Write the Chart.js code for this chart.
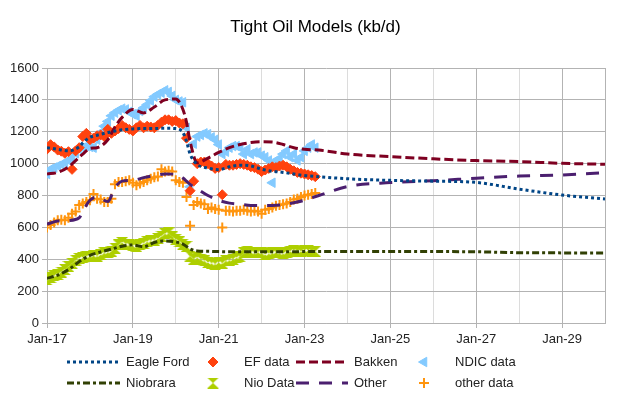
<!DOCTYPE html>
<html>
<head>
<meta charset="utf-8">
<script src="https://cdn.jsdelivr.net/npm/chart.js@4.4.0/dist/chart.umd.min.js"></script>
<style>
  html, body { margin: 0; padding: 0; background: #fff; }
  #wrap { width: 631px; height: 406px; }
</style>
</head>
<body>
<div id="wrap"><canvas id="chart"></canvas></div>
<script>
// months counted from Jan-17 (0) to Jan-30 (156)
const modelMonths = [0, 3, 6, 9, 10, 12, 14, 17, 19, 21, 24, 27, 30, 33, 36, 38, 39, 40, 42, 45,
  48, 51, 54, 57, 60, 63, 66, 69, 72, 76, 84, 96, 108, 120, 132, 144, 156];

const eagleFord = [1100, 1090, 1080, 1105, 1130, 1165, 1178, 1195, 1205, 1212, 1218, 1220, 1220, 1222, 1220, 1195, 1140, 1060, 995, 972,
  962, 980, 990, 985, 965, 952, 945, 935, 925, 918, 905, 895, 890, 882, 840, 803, 778];
const bakken = [935, 945, 980, 1040, 1060, 1095, 1100, 1150, 1230, 1290, 1340, 1318, 1355, 1400, 1405, 1340, 1260, 1140, 1005, 1035,
  1070, 1100, 1120, 1132, 1137, 1135, 1120, 1100, 1090, 1085, 1060, 1044, 1030, 1019, 1013, 1002, 996];
const niobrara = [280, 300, 335, 385, 400, 425, 440, 458, 470, 482, 490, 478, 505, 515, 508, 495, 480, 465, 452, 450,
  448, 447, 447, 447, 447, 447, 447, 447, 448, 448, 448, 448, 448, 447, 441, 440, 440];
const other = [620, 640, 643, 660, 700, 770, 790, 762, 850, 890, 895, 912, 925, 935, 933, 910, 890, 870, 842, 800,
  770, 752, 745, 738, 737, 737, 742, 755, 770, 800, 856, 881, 893, 908, 922, 929, 943];

// monthly data, Jan-17 onwards
const efData = [1091, 1119, 1105, 1085, 1078, 1065, 1075, 964, 1080, 1100,
  1170, 1190, 1150, 1160, 1175, 1180, 1170, 1215, 1190, 1205,
  1220, 1240, 1225, 1215, 1205, 1225, 1240, 1225, 1235, 1230,
  1225, 1240, 1260, 1275, 1275, 1265, 1270, 1255, 1250, 1160,
  830, 890, 1000, 1010, 1010, 1000, 985, 970, 975, 805,
  995, 990, 990, 995, 1000, 995, 990, 980, 975, 965,
  950, 960, 970, 980, 975, 985, 990, 980, 965, 955,
  945, 940, 935, 930, 925, 918];
const ndicData = [935, 965, 975, 985, 995, 1005, 1020, 1035, 1065, 1090,
  1100, 1110, 1105, 1100, 1150, 1195, 1235, 1265, 1300, 1320,
  1335, 1345, 1340, 1325, 1310, 1300, 1330, 1350, 1370, 1395,
  1420, 1435, 1445, 1460, 1450, 1425, 1400, 1390, 1385, 1225,
  855, 1125, 1170, 1180, 1190, 1185, 1165, 1150, 1120, 1060,
  1075, 1100, 1110, 1110, 1100, 1060, 1090, 1060, 1070, 1070,
  1050, 1040, 1020, 880, 1020, 1030, 1060, 1080, 1040, 1060,
  1020, 1040, 1080, 1100, 1120, 1100];
const nioData = [270, 285, 295, 305, 320, 335, 355, 375, 395, 405,
  410, 415, 420, 425, 420, 430, 440, 445, 450, 470,
  490, 505, 495, 490, 485, 480, 490, 500, 510, 515,
  520, 530, 545, 560, 565, 540, 525, 510, 495, 480,
  420, 400, 410, 400, 390, 380, 375, 370, 380, 375,
  390, 395, 400, 410, 415, 440, 450, 445, 440, 445,
  440, 430, 435, 440, 445, 440, 435, 445, 450, 455,
  450, 450, 455, 455, 450, 450];
const otherData = [600, 615, 630, 645, 648, 645, 660, 685, 700, 740,
  750, 760, 770, 810, 780, 775, 760, 760, 780, 870,
  885, 885, 890, 895, 880, 865, 875, 885, 895, 905,
  915, 920, 965, 950, 955, 950, 895, 885, 880, 790,
  610, 740, 760, 750, 745, 715, 725, 715, 710, 600,
  705, 705, 700, 705, 705, 710, 705, 700, 705, 700,
  685, 710, 715, 725, 735, 740, 745, 750, 760, 775,
  780, 790, 800, 805, 810, 815];

const yTicks = [0, 200, 400, 600, 800, 1000, 1200, 1400, 1600];

const FONT = "'Liberation Sans', Arial, sans-serif";

function model(values) {
  return values.map((v, i) => ({ x: modelMonths[i], y: v }));
}
function monthly(values) {
  return values.map((v, i) => ({ x: i, y: v }));
}

// hourglass marker for the Niobrara data
function hourglass(color) {
  const c = document.createElement("canvas");
  c.width = 12;
  c.height = 11;
  const g = c.getContext("2d");
  g.fillStyle = color;
  g.beginPath();
  g.moveTo(0, 0); g.lineTo(12, 0); g.lineTo(6, 5.5);
  g.lineTo(12, 11); g.lineTo(0, 11); g.lineTo(6, 5.5);
  g.closePath();
  g.fill();
  return c;
}
const nioMarker = hourglass("#AECF00");

const lineBase = { showLine: true, pointRadius: 0, pointHoverRadius: 0, borderWidth: 3, fill: false,
  cubicInterpolationMode: "monotone", borderCapStyle: "butt", order: 0 };
const markBase = { showLine: false, order: 1 };

const datasets = [
  { ...lineBase, label: "Eagle Ford", data: model(eagleFord), borderColor: "#004586", borderDash: [3, 3],
    legend: { col: 0, row: 0 } },
  { ...markBase, label: "EF data", data: monthly(efData), pointStyle: "rectRot", pointRadius: 5,
    backgroundColor: "#FF420E", borderColor: "#FF420E", borderWidth: 1, legend: { col: 1, row: 0 } },
  { ...lineBase, label: "Bakken", data: model(bakken), borderColor: "#7E0021", borderDash: [9, 4],
    legend: { col: 2, row: 0 } },
  { ...markBase, label: "NDIC data", data: monthly(ndicData), pointStyle: "triangle", pointRotation: -90,
    pointRadius: 5.5, backgroundColor: "#83CAFF", borderColor: "#83CAFF", borderWidth: 1, legend: { col: 3, row: 0 } },
  { ...lineBase, label: "Niobrara", data: model(niobrara), borderColor: "#314004", borderDash: [7, 3, 3, 3],
    legend: { col: 0, row: 1 } },
  { ...markBase, label: "Nio Data", data: monthly(nioData), pointStyle: nioMarker,
    backgroundColor: "#AECF00", borderColor: "#AECF00", legend: { col: 1, row: 1 } },
  { ...lineBase, label: "Other", data: model(other), borderColor: "#4B1F6F", borderDash: [13, 10],
    legend: { col: 2, row: 1 } },
  { ...markBase, label: "other data", data: monthly(otherData), pointStyle: "cross", pointRadius: 5,
    backgroundColor: "#FF950E", borderColor: "#FF950E", borderWidth: 2, legend: { col: 3, row: 1 } },
];

// legend columns: sample x-range / marker centre, text start
const legendCols = [
  { x0: 67, x1: 120, text: 126 },
  { mx: 213, text: 244 },
  { x0: 296, x1: 348, text: 354 },
  { mx: 424, text: 455 },
];
const legendRows = [362, 383];

const legendPlugin = {
  id: "sheetLegend",
  afterDraw(chart) {
    const ctx = chart.ctx;
    ctx.save();
    ctx.font = "13px " + FONT;
    ctx.textBaseline = "middle";
    ctx.fillStyle = "#222";
    chart.data.datasets.forEach(ds => {
      const col = legendCols[ds.legend.col];
      const y = legendRows[ds.legend.row];
      ctx.save();
      if (ds.showLine) {
        ctx.strokeStyle = ds.borderColor;
        ctx.lineWidth = ds.borderWidth;
        ctx.setLineDash(ds.borderDash);
        ctx.beginPath();
        ctx.moveTo(col.x0, y);
        ctx.lineTo(col.x1, y);
        ctx.stroke();
      } else {
        ctx.fillStyle = ds.backgroundColor;
        ctx.strokeStyle = ds.borderColor;
        ctx.lineWidth = ds.borderWidth || 1;
        Chart.helpers.drawPoint(ctx, {
          pointStyle: ds.pointStyle, rotation: ds.pointRotation || 0,
          radius: ds.pointRadius || 5, borderWidth: ds.borderWidth || 1
        }, col.mx, y);
      }
      ctx.restore();
      ctx.fillText(ds.label, col.text, y);
    });
    ctx.restore();
  }
};

new Chart(document.getElementById("chart"), {
  type: "scatter",
  data: { datasets },
  plugins: [legendPlugin],
  options: {
    responsive: true,
    maintainAspectRatio: false,
    animation: false,
    layout: { padding: 0 },
    plugins: {
      legend: { display: false },
      tooltip: { enabled: false },
      title: {
        display: true,
        text: "Tight Oil Models (kb/d)",
        color: "#000",
        font: { family: FONT, size: 17, weight: "normal" },
        padding: { top: 17, bottom: 30.6 },
      },
    },
    scales: {
      x: {
        type: "linear",
        min: 0,
        max: 156,
        afterFit: s => { s.height = 83; },
        afterBuildTicks: s => { s.ticks = []; for (let v = 0; v <= 156; v += 12) s.ticks.push({ value: v }); },
        ticks: {
          autoSkip: false,
          maxRotation: 0,
          padding: 4,
          color: "#222",
          font: { family: FONT, size: 13 },
          callback: v => (v % 24 === 0 && v < 156) ? "Jan-" + (17 + v / 12) : "",
        },
        grid: {
          color: c => (c.tick && (c.tick.value % 24 === 0 || c.tick.value === 156)) ? "#b3b3b3" : "#dcdcdc",
          tickColor: c => (c.tick && c.tick.value % 24 === 0) ? "#b3b3b3" : "rgba(0,0,0,0)",
          tickLength: 5,
          lineWidth: 1,
        },
        border: { color: "#b3b3b3" },
      },
      y: {
        min: 0,
        max: 1600,
        afterFit: s => { s.width = 47; },
        afterBuildTicks: s => { s.ticks = yTicks.map(v => ({ value: v })); },
        ticks: {
          padding: 3,
          color: "#222",
          font: { family: FONT, size: 13 },
          callback: v => String(v),
        },
        grid: { color: "#b3b3b3", tickLength: 5, lineWidth: 1 },
        border: { color: "#b3b3b3" },
      },
      // empty right-hand strip so the title stays centred on the full width
      yRight: {
        position: "right",
        min: 0,
        max: 1600,
        afterFit: s => { s.width = 26; },
        ticks: { display: false },
        grid: { display: false, drawOnChartArea: false },
        border: { display: false },
      },
    },
  },
});
</script>
</body>
</html>
